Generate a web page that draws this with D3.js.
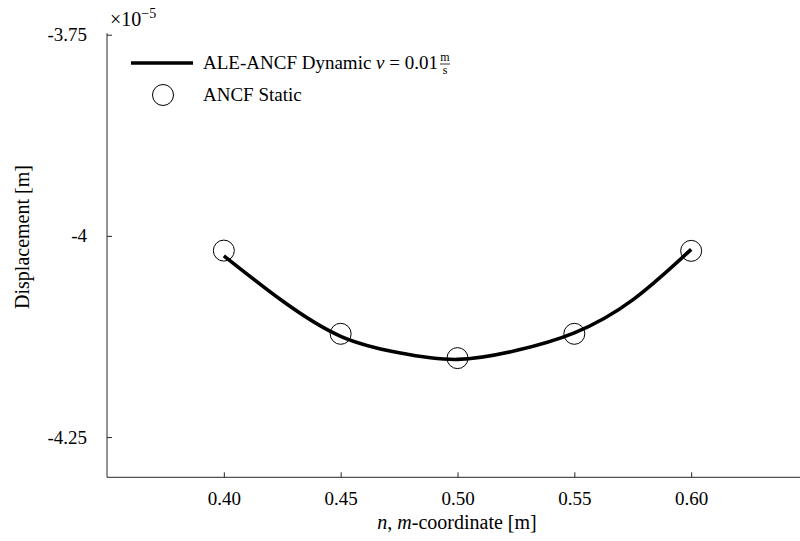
<!DOCTYPE html>
<html lang="en">
<head>
    <meta charset="UTF-8">
    <title>Displacement</title>
    <style>
        body,
        html {
            margin: 0;
            padding: 0;
            background: #fff;
        }
        text {
            font-family: "Liberation Serif", "DejaVu Serif", serif;
            fill: #000;
        }
    </style>
    <script src="https://d3js.org/d3.v7.min.js"></script>
</head>
<body>
<div id="chart"></div>
<script>
    // data (displacement in units of 1e-5 m)
    let lineX = [0.40, 0.425, 0.45, 0.475, 0.50, 0.525, 0.55, 0.575, 0.60],
        lineY = [-4.0248, -4.0807, -4.1248, -4.1453, -4.1535, -4.1425, -4.1205, -4.0795, -4.0168],
        staticX = [0.40, 0.45, 0.50, 0.55, 0.60],
        staticY = [-4.0183, -4.1217, -4.1519, -4.1217, -4.0186],
        xTicks = [0.40, 0.45, 0.50, 0.55, 0.60],
        yTicks = [-3.75, -4, -4.25],
        yTickLabels = ['-3.75', '-4', '-4.25'];

    let width = 800, height = 541;

    let svg = d3.select('#chart').append('svg')
        .attr('width', width).attr('height', height);

    let x = d3.scaleLinear().domain([0.35, 0.65]).range([107, 808]),
        y = d3.scaleLinear().domain([-4.3, -3.75]).range([477.3, 34.7]);

    let axisColor = '#262626';

    // axes, ticks inward
    let xAxis = d3.axisBottom(x).tickValues(xTicks).tickFormat(d3.format('.2f'))
        .tickSizeInner(-5).tickSizeOuter(0).tickPadding(14);
    let gx = svg.append('g').attr('transform', 'translate(0,' + y(-4.3) + ')').call(xAxis);
    gx.select('.domain').attr('d', 'M' + x(0.35) + ',0H' + width);

    let yAxis = d3.axisLeft(y).tickValues(yTicks).tickFormat((d, i) => yTickLabels[i])
        .tickSizeInner(-5).tickSizeOuter(0).tickPadding(20);
    let gy = svg.append('g').attr('transform', 'translate(' + x(0.35) + ',0)').call(yAxis);
    gy.select('.domain').attr('d', 'M0,' + (y(-3.75) - 1.5) + 'V' + y(-4.3));

    [gx, gy].forEach(g => {
        g.selectAll('.domain, .tick line').attr('stroke', axisColor).attr('stroke-width', 1);
        g.selectAll('.tick text').attr('font-size', 19)
            .style('font-family', '"Liberation Serif", serif').attr('fill', '#000');
    });

    // exponent label
    let ex = svg.append('text').attr('x', 110).attr('y', 26).attr('font-size', 20);
    ex.append('tspan').text('\u00d710');
    ex.append('tspan').attr('dy', -8).attr('font-size', 14).text('\u22125');

    // axis labels
    let xl = svg.append('text').attr('x', 457).attr('y', 529).attr('text-anchor', 'middle').attr('font-size', 20);
    xl.append('tspan').attr('font-style', 'italic').text('n');
    xl.append('tspan').text(', ');
    xl.append('tspan').attr('font-style', 'italic').text('m');
    xl.append('tspan').text('-coordinate [m]');

    svg.append('text')
        .attr('transform', 'translate(29,' + 237 + ') rotate(-90)')
        .attr('text-anchor', 'middle').attr('font-size', 20)
        .text('Displacement [m]');

    // dynamic curve
    let line = d3.line().x((d, i) => x(lineX[i])).y(d => y(d)).curve(d3.curveNatural);
    svg.append('path').datum(lineY)
        .attr('d', line)
        .attr('fill', 'none').attr('stroke', '#000').attr('stroke-width', 3.6);

    // static points
    svg.selectAll('.pt').data(staticY).enter().append('circle')
        .attr('class', 'pt')
        .attr('cx', (d, i) => x(staticX[i])).attr('cy', d => y(d))
        .attr('r', 10.5)
        .attr('fill', 'none').attr('stroke', '#000').attr('stroke-width', 1);

    // legend
    let lg = svg.append('g');
    lg.append('line').attr('x1', 131).attr('x2', 193).attr('y1', 63).attr('y2', 63)
        .attr('stroke', '#000').attr('stroke-width', 3.6);
    let t1 = lg.append('text').attr('x', 203).attr('y', 69).attr('font-size', 19);
    t1.append('tspan').text('ALE-ANCF Dynamic ');
    t1.append('tspan').attr('font-style', 'italic').text('v');
    t1.append('tspan').text(' = 0.01');
    let w = t1.node().getComputedTextLength();
    let fx = 203 + w + 7;
    lg.append('text').attr('x', fx).attr('y', 61).attr('text-anchor', 'middle').attr('font-size', 12).text('m');
    lg.append('line').attr('x1', fx - 5).attr('x2', fx + 5).attr('y1', 64).attr('y2', 64)
        .attr('stroke', '#000').attr('stroke-width', 0.8);
    lg.append('text').attr('x', fx).attr('y', 74).attr('text-anchor', 'middle').attr('font-size', 12).text('s');

    lg.append('circle').attr('cx', 163).attr('cy', 95).attr('r', 10.5)
        .attr('fill', 'none').attr('stroke', '#000').attr('stroke-width', 1);
    lg.append('text').attr('x', 203).attr('y', 101).attr('font-size', 19).text('ANCF Static');
</script>
</body>
</html>
